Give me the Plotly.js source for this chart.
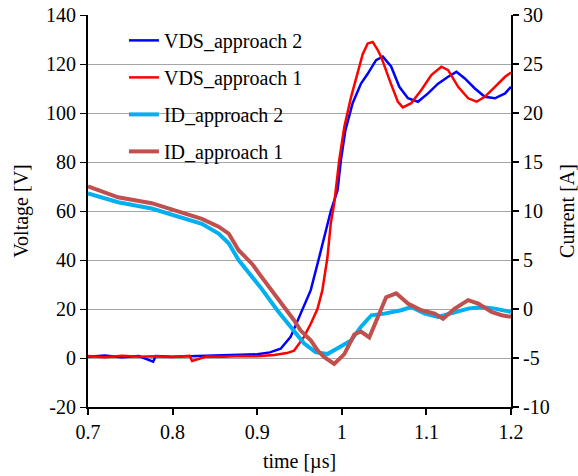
<!DOCTYPE html>
<html>
<head>
<meta charset="utf-8">
<script src="https://cdn.plot.ly/plotly-3.0.1.min.js"></script>
<style>html,body{margin:0;padding:0;background:#fff;}#chart{width:578px;height:476px;}</style>
</head>
<body>
<div id="chart"></div>
<script>
// VDS approach 1 (red) — time [µs], voltage [V]
const vds1_t = [0.700,0.720,0.740,0.760,0.780,0.800,0.820,0.823,0.840,0.860,0.880,0.900,0.920,0.935,0.9435,0.9553,0.9633,0.9712,0.977,0.983,0.987,0.991,0.997,1.003,1.011,1.0188,1.0247,1.0306,1.0366,1.0425,1.0464,1.058,1.0663,1.0722,1.082,1.094,1.1058,1.1177,1.1257,1.1375,1.1494,1.1593,1.169,1.181,1.193,1.200];
const vds1_v = [0.8,0.3,0.9,0.5,0.7,0.4,0.9,-1.2,0.6,0.5,0.8,0.7,1.2,2.0,3.0,8.6,14,20,27.6,41,55,63,80.8,94.4,106.6,116,124,128.4,129,125.7,123,112,104.6,102.3,104,109.4,115.5,118.9,117.5,110.7,106,104.6,106.6,110.7,114.8,116.5];

// VDS approach 2 (blue)
const vds2_t = [0.700,0.720,0.740,0.760,0.777,0.780,0.800,0.820,0.840,0.860,0.880,0.900,0.915,0.9277,0.9395,0.9514,0.9633,0.9732,0.981,0.987,0.995,0.9989,1.0043,1.0128,1.0227,1.0306,1.0405,1.0485,1.0583,1.068,1.0782,1.090,1.1019,1.1138,1.1257,1.1355,1.1454,1.1573,1.169,1.181,1.193,1.200];
const vds2_v = [0.5,1.0,0.3,0.8,-1.5,0.8,0.5,0.7,0.6,0.9,1.0,1.5,2.3,3.8,8.6,18,27.7,41,52,60,68.5,80.7,93,104,112,116,121.6,123,119,110.7,106,104.6,108,112,114.8,116.8,114.1,110,106.6,106,108,110.7];

// ID approach 1 (brown) — time [µs], current [A]
const id1_t = [0.700,0.7356,0.7753,0.8148,0.8346,0.8544,0.8663,0.878,0.894,0.904,0.9237,0.9435,0.9514,0.9633,0.9712,0.979,0.991,1.003,1.0147,1.0227,1.0325,1.0405,1.0524,1.0643,1.0782,1.094,1.1097,1.1197,1.1335,1.1494,1.1613,1.177,1.189,1.200];
const id1_i = [12.5,11.4,10.8,9.7,9.2,8.4,7.7,6.0,4.6,3.4,1.2,-1.15,-2.2,-3.2,-4.2,-4.9,-5.6,-4.6,-2.6,-2.3,-2.9,-1.15,1.2,1.6,0.55,-0.13,-0.47,-1.0,0.04,0.9,0.55,-0.3,-0.64,-0.8];

// ID approach 2 (light blue)
const id2_t = [0.700,0.7356,0.7753,0.8148,0.8346,0.8544,0.8663,0.878,0.894,0.904,0.9237,0.9435,0.9553,0.969,0.983,0.995,1.011,1.0227,1.035,1.0504,1.070,1.082,1.098,1.1138,1.1296,1.1494,1.1652,1.181,1.200];
const id2_i = [11.8,10.9,10.25,9.2,8.7,7.7,6.7,5.0,3.3,2.2,-0.13,-2.2,-3.5,-4.4,-4.6,-4.0,-3.2,-1.8,-0.64,-0.47,-0.13,0.2,-0.47,-0.8,-0.47,0.04,0.2,0.04,-0.3];

// Tick labels
const yTickVals = [-20,0,20,40,60,80,100,120,140];
const yTickText = ["-20","0","20","40","60","80","100","120","140"];
const y2TickVals = [-10,-5,0,5,10,15,20,25,30];
const y2TickText = ["-10","-5","0","5","10","15","20","25","30"];
const xTickVals = [0.7,0.8,0.9,1.0,1.1,1.2];
const xTickText = ["0.7","0.8","0.9","1","1.1","1.2"];

const FONT = '"Liberation Serif", "Times New Roman", Times, serif';
const FS = 20;

const traces = [
  {x: id2_t, y: id2_i, yaxis: 'y2', name: 'ID_approach 2', mode: 'lines',
   line: {color: '#00B0F0', width: 4}, legendrank: 3, legendgroup: 'c'},
  {x: id1_t, y: id1_i, yaxis: 'y2', name: 'ID_approach 1', mode: 'lines',
   line: {color: '#C0504D', width: 4}, legendrank: 4, legendgroup: 'd'},
  {x: vds2_t, y: vds2_v, name: 'VDS_approach 2', mode: 'lines',
   line: {color: '#0000FF', width: 2.5}, legendrank: 1, legendgroup: 'a'},
  {x: vds1_t, y: vds1_v, name: 'VDS_approach 1', mode: 'lines',
   line: {color: '#FF0000', width: 2.5}, legendrank: 2, legendgroup: 'b'}
];

const layout = {
  width: 578, height: 476,
  margin: {l: 88, r: 67, t: 15, b: 69},
  paper_bgcolor: '#fff', plot_bgcolor: '#fff',
  font: {family: FONT, size: FS, color: '#000'},
  showlegend: true,
  legend: {x: 0.085, y: 0.985, xanchor: 'left', yanchor: 'top', bgcolor: 'rgba(255,255,255,0)',
           font: {family: FONT, size: FS, color: '#000'}, tracegroupgap: 8, traceorder: 'grouped'},
  xaxis: {range: [0.7, 1.2], tickvals: xTickVals, ticktext: xTickText, showgrid: false, zeroline: false,
          showline: true, linecolor: '#000', linewidth: 2, ticks: 'outside', ticklen: 6, tickwidth: 2, tickcolor: '#000',
          tickfont: {family: FONT, size: FS},
          title: {text: 'time [µs]', font: {family: FONT, size: FS}, standoff: 12}},
  yaxis: {range: [-20, 140], tickvals: yTickVals, ticktext: yTickText, showgrid: true, gridcolor: '#A6A6A6', gridwidth: 1,
          zeroline: false, showline: true, linecolor: '#000', linewidth: 2, ticks: 'outside', ticklen: 6, tickwidth: 1, tickcolor: '#000',
          tickfont: {family: FONT, size: FS},
          title: {text: 'Voltage [V]', font: {family: FONT, size: FS}, standoff: 12}},
  yaxis2: {range: [-10, 30], tickvals: y2TickVals, ticktext: y2TickText, overlaying: 'y', side: 'right', showgrid: false,
           zeroline: false, showline: true, linecolor: '#000', linewidth: 2, ticks: 'outside', ticklen: 6, tickwidth: 2, tickcolor: '#000',
           tickfont: {family: FONT, size: FS},
           title: {text: 'Current [A]', font: {family: FONT, size: FS}, standoff: 12}}
};

Plotly.newPlot('chart', traces, layout, {displayModeBar: false, staticPlot: true});
</script>
</body>
</html>
